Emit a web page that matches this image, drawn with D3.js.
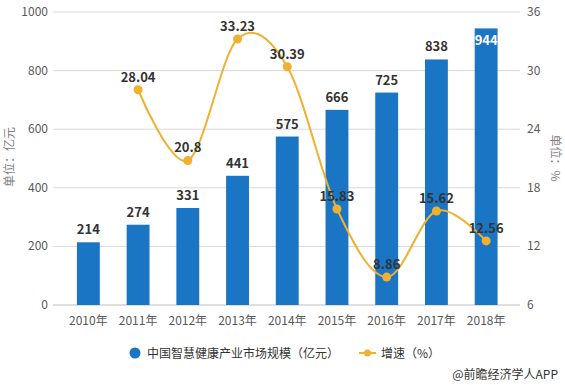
<!DOCTYPE html>
<html>
<head>
<meta charset="utf-8">
<script src="https://cdn.jsdelivr.net/npm/d3@7"></script>
<style>
  body { margin: 0; background: #fff; }
  text { font-family: "Microsoft YaHei", "Noto Sans CJK SC", sans-serif; }
</style>
</head>
<body>
<div id="chart"></div>
<script>
var years = ["2010年","2011年","2012年","2013年","2014年","2015年","2016年","2017年","2018年"];
var scaleVals = [214, 274, 331, 441, 575, 666, 725, 838, 944];
var growth = [null, 28.04, 20.8, 33.23, 30.39, 15.83, 8.86, 15.62, 12.56];
var leftTicks = [0, 200, 400, 600, 800, 1000];
var rightTicks = [6, 12, 18, 24, 30, 36];

var w = 565, h = 385;
var svg = d3.select("#chart").append("svg")
    .attr("width", w)
    .attr("height", h);

var x = d3.scaleBand().domain(years).range([63.5, 511]).paddingInner(0.54).paddingOuter(0.27);
var y = d3.scaleLinear().domain([0, 1000]).range([305, 12]);
var y2 = d3.scaleLinear().domain([6, 36]).range([305, 12]);

// gridlines
svg.append("g").selectAll("line")
    .data(leftTicks.slice(1))
    .enter().append("line")
    .attr("x1", 53).attr("x2", 520)
    .attr("y1", function (d) { return y(d); })
    .attr("y2", function (d) { return y(d); })
    .style("stroke", "#d9d9d9");

svg.append("line")
    .attr("x1", 53).attr("x2", 520)
    .attr("y1", y(0)).attr("y2", y(0))
    .style("stroke", "#bfbfbf");

// left axis labels
svg.append("g").selectAll("text")
    .data(leftTicks)
    .enter().append("text")
    .attr("x", 48)
    .attr("y", function (d) { return y(d) + 4; })
    .attr("text-anchor", "end")
    .style("font-size", "12px")
    .style("fill", "#595959")
    .text(function (d) { return d; });

// right axis labels
svg.append("g").selectAll("text")
    .data(rightTicks)
    .enter().append("text")
    .attr("x", 527)
    .attr("y", function (d) { return y2(d) + 4; })
    .style("font-size", "12px")
    .style("fill", "#595959")
    .text(function (d) { return d; });

// x labels
svg.append("g").selectAll("text")
    .data(years)
    .enter().append("text")
    .attr("x", function (d) { return x(d) + x.bandwidth() / 2; })
    .attr("y", 325)
    .attr("text-anchor", "middle")
    .style("font-size", "12px")
    .style("fill", "#595959")
    .text(function (d) { return d; });

// axis titles
svg.append("text")
    .attr("transform", "translate(14,157) rotate(-90)")
    .attr("text-anchor", "middle")
    .style("font-size", "12px")
    .style("fill", "#7f7f7f")
    .text("单位：亿元");

svg.append("text")
    .attr("transform", "translate(551,158) rotate(90)")
    .attr("text-anchor", "middle")
    .style("font-size", "12px")
    .style("fill", "#7f7f7f")
    .text("单位：%");

// bars
svg.append("g").selectAll("rect")
    .data(scaleVals)
    .enter().append("rect")
    .attr("x", function (d, i) { return x(years[i]); })
    .attr("y", function (d) { return y(d); })
    .attr("width", x.bandwidth())
    .attr("height", function (d) { return y(0) - y(d); })
    .style("fill", "#1a75c4");

svg.append("g").selectAll("text")
    .data(scaleVals)
    .enter().append("text")
    .attr("x", function (d, i) { return x(years[i]) + x.bandwidth() / 2; })
    .attr("y", function (d) { return d > 900 ? y(d) + 17 : y(d) - 8; })
    .attr("text-anchor", "middle")
    .style("font-size", "13px")
    .style("font-weight", "bold")
    .style("fill", function (d) { return d > 900 ? "#fff" : "#333"; })
    .text(function (d) { return d; });

// growth line
var pts = growth.map(function (v, i) { return { year: years[i], v: v }; })
    .filter(function (d) { return d.v !== null; });

var line = d3.line()
    .x(function (d) { return x(d.year) + x.bandwidth() / 2; })
    .y(function (d) { return y2(d.v); })
    .curve(d3.curveCardinal.tension(0));

svg.append("path")
    .datum(pts)
    .attr("d", line)
    .style("fill", "none")
    .style("stroke", "#f0b030")
    .style("stroke-width", 2);

svg.append("g").selectAll("circle")
    .data(pts)
    .enter().append("circle")
    .attr("cx", function (d) { return x(d.year) + x.bandwidth() / 2; })
    .attr("cy", function (d) { return y2(d.v); })
    .attr("r", 4.5)
    .style("fill", "#f0b030");

svg.append("g").selectAll("text")
    .data(pts)
    .enter().append("text")
    .attr("x", function (d) { return x(d.year) + x.bandwidth() / 2; })
    .attr("y", function (d) { return y2(d.v) - 8; })
    .attr("text-anchor", "middle")
    .style("font-size", "13px")
    .style("font-weight", "bold")
    .style("fill", "#333")
    .text(function (d) { return d.v; });

// legend
svg.append("circle").attr("cx", 135).attr("cy", 353).attr("r", 5.5).style("fill", "#1a75c4");
svg.append("text").attr("x", 147).attr("y", 358)
    .style("font-size", "12px").style("fill", "#333")
    .text("中国智慧健康产业市场规模（亿元）");
svg.append("line").attr("x1", 359).attr("x2", 376).attr("y1", 353).attr("y2", 353)
    .style("stroke", "#f0b030").style("stroke-width", 2);
svg.append("circle").attr("cx", 367.5).attr("cy", 353).attr("r", 3.5).style("fill", "#f0b030");
svg.append("text").attr("x", 381).attr("y", 358)
    .style("font-size", "12px").style("fill", "#333")
    .text("增速（%）");

svg.append("text").attr("x", 558).attr("y", 379)
    .attr("text-anchor", "end")
    .style("font-size", "12px").style("fill", "#333")
    .text("@前瞻经济学人APP");
</script>
</body>
</html>
